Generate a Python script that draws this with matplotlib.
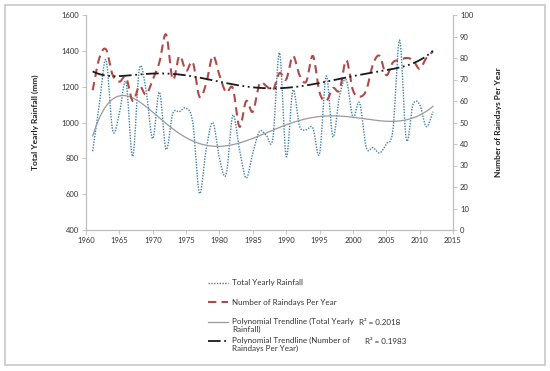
import numpy as np
import matplotlib
matplotlib.use("Agg")
import matplotlib.pyplot as plt
from matplotlib.patches import Rectangle
from matplotlib.lines import Line2D

plt.rcParams['font.family'] = ['Lato', 'DejaVu Sans']

years = list(range(1961, 2013))
rainfall = [840, 1100, 1350, 955, 1050, 1225, 810, 1300, 1180, 910,
            1170, 850, 1050, 1060, 1080, 1000, 605, 850, 1000, 800,
            710, 1040, 850, 690, 830, 950, 930, 910, 1390, 810,
            1180, 980, 960, 970, 825, 1260, 920, 1150, 1237, 1030,
            1110, 860, 860, 830, 880, 960, 1460, 905, 1100, 1100,
            977, 1060]
raindays = [65, 80, 84, 72, 69, 71, 60, 67, 63, 70,
            78, 91, 70, 81, 74, 78, 62, 68, 81, 72,
            64, 66, 48, 60, 55, 68, 67, 65, 73, 70,
            81, 72, 69, 81, 64, 60, 66, 65, 79, 65,
            62, 65, 77, 81, 72, 78, 79, 80, 79, 75,
            80, 83]
x_ticks = list(range(1960, 2016, 5))
left_ticks = list(range(400, 1601, 200))
right_ticks = list(range(0, 101, 10))
r2_rain = "R² = 0.2018"
r2_days = "R² = 0.1983"


def smooth(x, y, n=12):
    # Catmull-Rom, like Excel's smoothed line
    x = np.asarray(x, float)
    y = np.asarray(y, float)
    px = np.concatenate([[2 * x[0] - x[1]], x, [2 * x[-1] - x[-2]]])
    py = np.concatenate([[2 * y[0] - y[1]], y, [2 * y[-1] - y[-2]]])
    xs, ys = [], []
    t = np.linspace(0, 1, n, endpoint=False)
    for i in range(1, len(px) - 2):
        p0, p1, p2, p3 = py[i - 1], py[i], py[i + 1], py[i + 2]
        q0, q1, q2, q3 = px[i - 1], px[i], px[i + 1], px[i + 2]
        f = lambda a0, a1, a2, a3: 0.5 * ((2 * a1) + (-a0 + a2) * t
                                          + (2 * a0 - 5 * a1 + 4 * a2 - a3) * t ** 2
                                          + (-a0 + 3 * a1 - 3 * a2 + a3) * t ** 3)
        xs.append(f(q0, q1, q2, q3))
        ys.append(f(p0, p1, p2, p3))
    xs.append([x[-1]])
    ys.append([y[-1]])
    return np.concatenate(xs), np.concatenate(ys)


def trend(x, y, deg):
    x = np.asarray(x, float)
    c = np.polyfit((x - 1986) / 26, y, deg)
    xx = np.linspace(x[0], x[-1], 300)
    return xx, np.polyval(c, (xx - 1986) / 26)


fig = plt.figure(figsize=(5.5, 3.71), dpi=100)
fig.patches.append(Rectangle((5 / 550, 1 - 365 / 371), 540 / 550, 360 / 371,
                             transform=fig.transFigure, fill=False,
                             edgecolor="#c8c8c8", linewidth=1.2))

ax = fig.add_axes([86 / 550, 1 - 230 / 371, 367 / 550, 215 / 371])
ax2 = ax.twinx()

c_rain = "#3f7fae"
c_days = "#b04a48"

sx, sy = smooth(years, rainfall)
ax.plot(sx, sy, color=c_rain, linestyle=(0, (1, 1)), linewidth=1.0)
tx, ty = trend(years, rainfall, 6)
ax.plot(tx, ty, color="#9a9a9a", linewidth=0.9)

sx, sy = smooth(years, raindays)
ax2.plot(sx, sy, color=c_days, linestyle=(0, (4, 2.5)), linewidth=1.5)
tx, ty = trend(years, raindays, 6)
ax2.plot(tx, ty, color="#1a1a1a", linestyle=(0, (7, 2, 1, 2, 1, 2)), linewidth=1.3)

ax.set_xlim(1960, 2015)
ax.set_ylim(400, 1600)
ax2.set_ylim(0, 100)
ax.set_xticks(x_ticks)
ax.set_yticks(left_ticks)
ax2.set_yticks(right_ticks)

for a in (ax, ax2):
    a.spines['top'].set_visible(False)
    for s in ('left', 'right', 'bottom'):
        a.spines[s].set_color("#bdbdbd")
        a.spines[s].set_linewidth(0.8)
    a.tick_params(labelsize=5.5, colors="#bdbdbd", labelcolor="#333333",
                  length=3, width=0.6, pad=2)

ax.set_ylabel("Total Yearly Rainfall (mm)", fontsize=6, fontweight="bold",
              color="#222222", labelpad=16)
ax2.set_ylabel("Number of Raindays Per Year", fontsize=6, fontweight="bold",
               color="#222222", labelpad=16)

# legend, drawn by hand to match the layout
fs = 5.8
tc = "#333333"
def lx(px):
    return px / 550
def ly(py):
    return 1 - py / 371

fig.add_artist(Line2D([lx(208), lx(228)], [ly(283), ly(283)], color=c_rain,
                      linestyle=(0, (1, 1)), linewidth=1.0))
fig.text(lx(232), ly(283), "Total Yearly Rainfall", fontsize=fs, color=tc, va="center")
fig.add_artist(Line2D([lx(208), lx(228)], [ly(302), ly(302)], color=c_days,
                      linestyle=(0, (4, 2.5)), linewidth=1.5))
fig.text(lx(232), ly(302), "Number of Raindays Per Year", fontsize=fs, color=tc, va="center")
fig.add_artist(Line2D([lx(208), lx(228)], [ly(322), ly(322)], color="#9a9a9a",
                      linewidth=0.9))
fig.text(lx(232), ly(325.5), "Polynomial Trendline (Total Yearly\nRainfall)",
         fontsize=fs, color=tc, va="center", linespacing=1.2)
fig.text(lx(359), ly(322.5), r2_rain, fontsize=fs, color=tc, va="center")
fig.add_artist(Line2D([lx(208), lx(228)], [ly(341), ly(341)], color="#1a1a1a",
                      linestyle=(0, (7, 2, 1, 2, 1, 2)), linewidth=1.3))
fig.text(lx(232), ly(344.5), "Polynomial Trendline (Number of\nRaindays Per Year)",
         fontsize=fs, color=tc, va="center", linespacing=1.2)
fig.text(lx(365), ly(342), r2_days, fontsize=fs, color=tc, va="center")

fig.savefig("out.png", dpi=100)
